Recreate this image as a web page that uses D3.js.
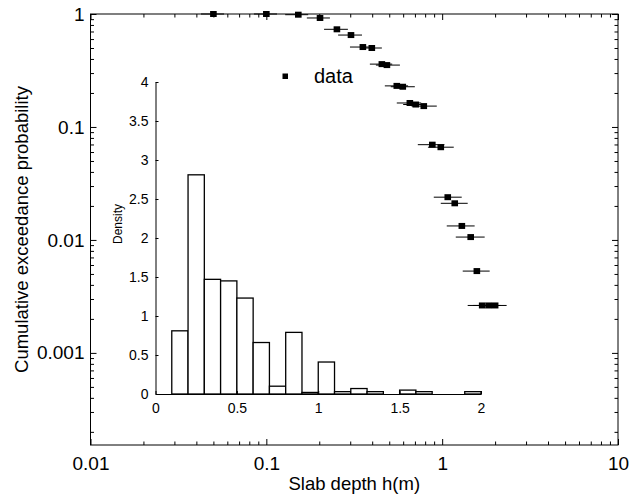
<!DOCTYPE html>
<html>
<head>
<meta charset="utf-8">
<script src="https://cdn.jsdelivr.net/npm/d3@7"></script>
<style>
  body { margin: 0; background: #fff; }
  svg { font-family: "Liberation Sans", Arial, Helvetica, sans-serif; }
</style>
</head>
<body>
<div id="viz"></div>
<script>
// slab depth samples (m), cumulative exceedance prob, horizontal error range
const depth    = [0.05, 0.1, 0.152, 0.202, 0.252, 0.303, 0.354, 0.398, 0.454, 0.485, 0.552, 0.597,
                  0.655, 0.708, 0.786, 0.879, 0.982, 1.076, 1.179, 1.294, 1.453, 1.575, 1.689, 1.839, 2.001];
const prob     = [1.0, 1.0, 0.986, 0.922, 0.732, 0.651, 0.510, 0.500, 0.360, 0.353, 0.231, 0.227,
                  0.163, 0.158, 0.153, 0.0697, 0.0662, 0.0239, 0.0211, 0.0133, 0.0106, 0.0053, 0.00263, 0.00263, 0.00263];
const depthLo  = [0.0425, 0.085, 0.128, 0.170, 0.213, 0.256, 0.299, 0.341, 0.388, 0.42, 0.472, 0.51,
                  0.552, 0.60, 0.67, 0.727, 0.83, 0.896, 0.982, 1.062, 1.195, 1.309, 1.397, 1.5, 1.70];
const depthHi  = [0.0575, 0.115, 0.173, 0.230, 0.291, 0.350, 0.41, 0.454, 0.52, 0.575, 0.64, 0.699,
                  0.76, 0.82, 0.932, 1.03, 1.164, 1.292, 1.397, 1.53, 1.745, 1.863, 2.0, 2.15, 2.326];

// inset histogram (bin width 0.1 starting at 0.1)
const binStart = [0.1, 0.2, 0.3, 0.4, 0.5, 0.6, 0.7, 0.8, 0.9, 1.0, 1.1, 1.2, 1.3, 1.4, 1.5, 1.6, 1.7, 1.8, 1.9];
const density  = [0.81, 2.81, 1.47, 1.45, 1.23, 0.66, 0.10, 0.79, 0.02, 0.41, 0.03, 0.07, 0.03, 0, 0.05, 0.03, 0, 0, 0.03];
const binWidth = 0.1;

const xMajor = [0.01, 0.1, 1, 10];
const xMajorLabels = ["0.01", "0.1", "1", "10"];
const yMajor = [0.001, 0.01, 0.1, 1];
const yMajorLabels = ["0.001", "0.01", "0.1", "1"];
const insetXTicks = [0, 0.5, 1, 1.5, 2];
const insetYTicks = [0, 0.5, 1, 1.5, 2, 2.5, 3, 3.5, 4];

const width = 631, height = 495;
const svg = d3.select("#viz").append("svg")
    .attr("width", width)
    .attr("height", height);

// main log-log axes
const L = 90.5, R = 618, T = 14, B = 445;
const x = d3.scaleLog().domain([0.01, 10]).range([L, R]);
const y = d3.scaleLog().domain([1.53e-4, 1]).range([B, T]);

function minorTicks(lo, hi) {
  const out = [];
  for (let e = Math.floor(Math.log10(lo)); e < Math.ceil(Math.log10(hi)); e++) {
    for (let m = 2; m <= 9; m++) {
      const v = m * Math.pow(10, e);
      if (v > lo && v < hi) out.push(v);
    }
  }
  return out;
}
const xMinor = minorTicks(0.01, 10);
const yMinor = minorTicks(1.53e-4, 1);

function addAxis(axisFn, scale, tr, values, size, labels, pad) {
  const g = svg.append("g").attr("transform", tr)
    .call(axisFn(scale).tickValues(values).tickSize(size).tickSizeOuter(0)
      .tickPadding(pad || 3)
      .tickFormat(labels ? (d, i) => labels[i] : ""));
  g.select(".domain").remove();
  g.selectAll("line").attr("stroke", "#000");
  g.selectAll("text").attr("fill", "#000").style("font-size", "19px");
  return g;
}

// bottom / top
addAxis(d3.axisBottom, x, `translate(0,${B})`, xMinor, -3.5);
addAxis(d3.axisBottom, x, `translate(0,${B})`, xMajor, -6, xMajorLabels, 12);
addAxis(d3.axisTop, x, `translate(0,${T})`, xMinor, -3.5);
addAxis(d3.axisTop, x, `translate(0,${T})`, xMajor, -6);
// left / right
addAxis(d3.axisLeft, y, `translate(${L},0)`, yMinor, -3.5);
addAxis(d3.axisLeft, y, `translate(${L},0)`, yMajor, -6, yMajorLabels, 6);
addAxis(d3.axisRight, y, `translate(${R},0)`, yMinor, -3.5);
addAxis(d3.axisRight, y, `translate(${R},0)`, yMajor, -6);

svg.append("rect")
  .attr("x", L).attr("y", T).attr("width", R - L).attr("height", B - T)
  .attr("fill", "none").attr("stroke", "#000").attr("stroke-width", 1);

svg.append("text")
  .attr("x", (L + R) / 2).attr("y", 490)
  .attr("text-anchor", "middle").style("font-size", "18.5px")
  .text("Slab depth h(m)");
svg.append("text")
  .attr("transform", `translate(28,${(T + B) / 2}) rotate(-90)`)
  .attr("text-anchor", "middle").style("font-size", "18.5px")
  .text("Cumulative exceedance probability");

// error bars + markers
const pts = depth.map((d, i) => ({ d, p: prob[i], lo: depthLo[i], hi: depthHi[i] }));
svg.append("g").selectAll("line").data(pts).enter().append("line")
  .attr("x1", d => x(d.lo)).attr("x2", d => x(d.hi))
  .attr("y1", d => y(d.p)).attr("y2", d => y(d.p))
  .attr("stroke", "#000").attr("stroke-width", 1);
svg.append("g").selectAll("rect").data(pts).enter().append("rect")
  .attr("x", d => x(d.d) - 3.3).attr("y", d => y(d.p) - 3)
  .attr("width", 6.6).attr("height", 6)
  .attr("fill", "#000");

// legend
svg.append("rect").attr("x", 282.5).attr("y", 73.5).attr("width", 5.5).attr("height", 5.5).attr("fill", "#000");
svg.append("text").attr("x", 314).attr("y", 83).style("font-size", "20px").text("data");

// inset histogram
const xi = d3.scaleLinear().domain([0, 2]).range([155.5, 481]);
const yi = d3.scaleLinear().domain([0, 4]).range([394, 82]);

const inset = svg.append("g");
inset.selectAll("rect").data(binStart).enter().append("rect")
  .attr("x", d => xi(d)).attr("width", xi(binWidth) - xi(0))
  .attr("y", (d, i) => yi(density[i]))
  .attr("height", (d, i) => yi(0) - yi(density[i]))
  .attr("fill", "#fff").attr("stroke", "#000").attr("stroke-width", 1.3);

const gxi = svg.append("g").attr("transform", `translate(0,${yi(0)})`)
  .call(d3.axisBottom(xi).tickValues(insetXTicks).tickSize(-3).tickSizeOuter(0).tickPadding(9)
    .tickFormat(d3.format("")));
const gyi = svg.append("g").attr("transform", `translate(${xi(0)},0)`)
  .call(d3.axisLeft(yi).tickValues(insetYTicks).tickSize(-3).tickSizeOuter(0).tickPadding(7)
    .tickFormat(d3.format("")));
[gxi, gyi].forEach(g => {
  g.select(".domain").attr("stroke", "#000");
  g.selectAll("line").attr("stroke", "#000");
  g.selectAll("text").attr("fill", "#000").style("font-size", "14px");
});

svg.append("text")
  .attr("transform", "translate(122,224) rotate(-90)")
  .attr("text-anchor", "middle").style("font-size", "12px")
  .text("Density");
</script>
</body>
</html>
